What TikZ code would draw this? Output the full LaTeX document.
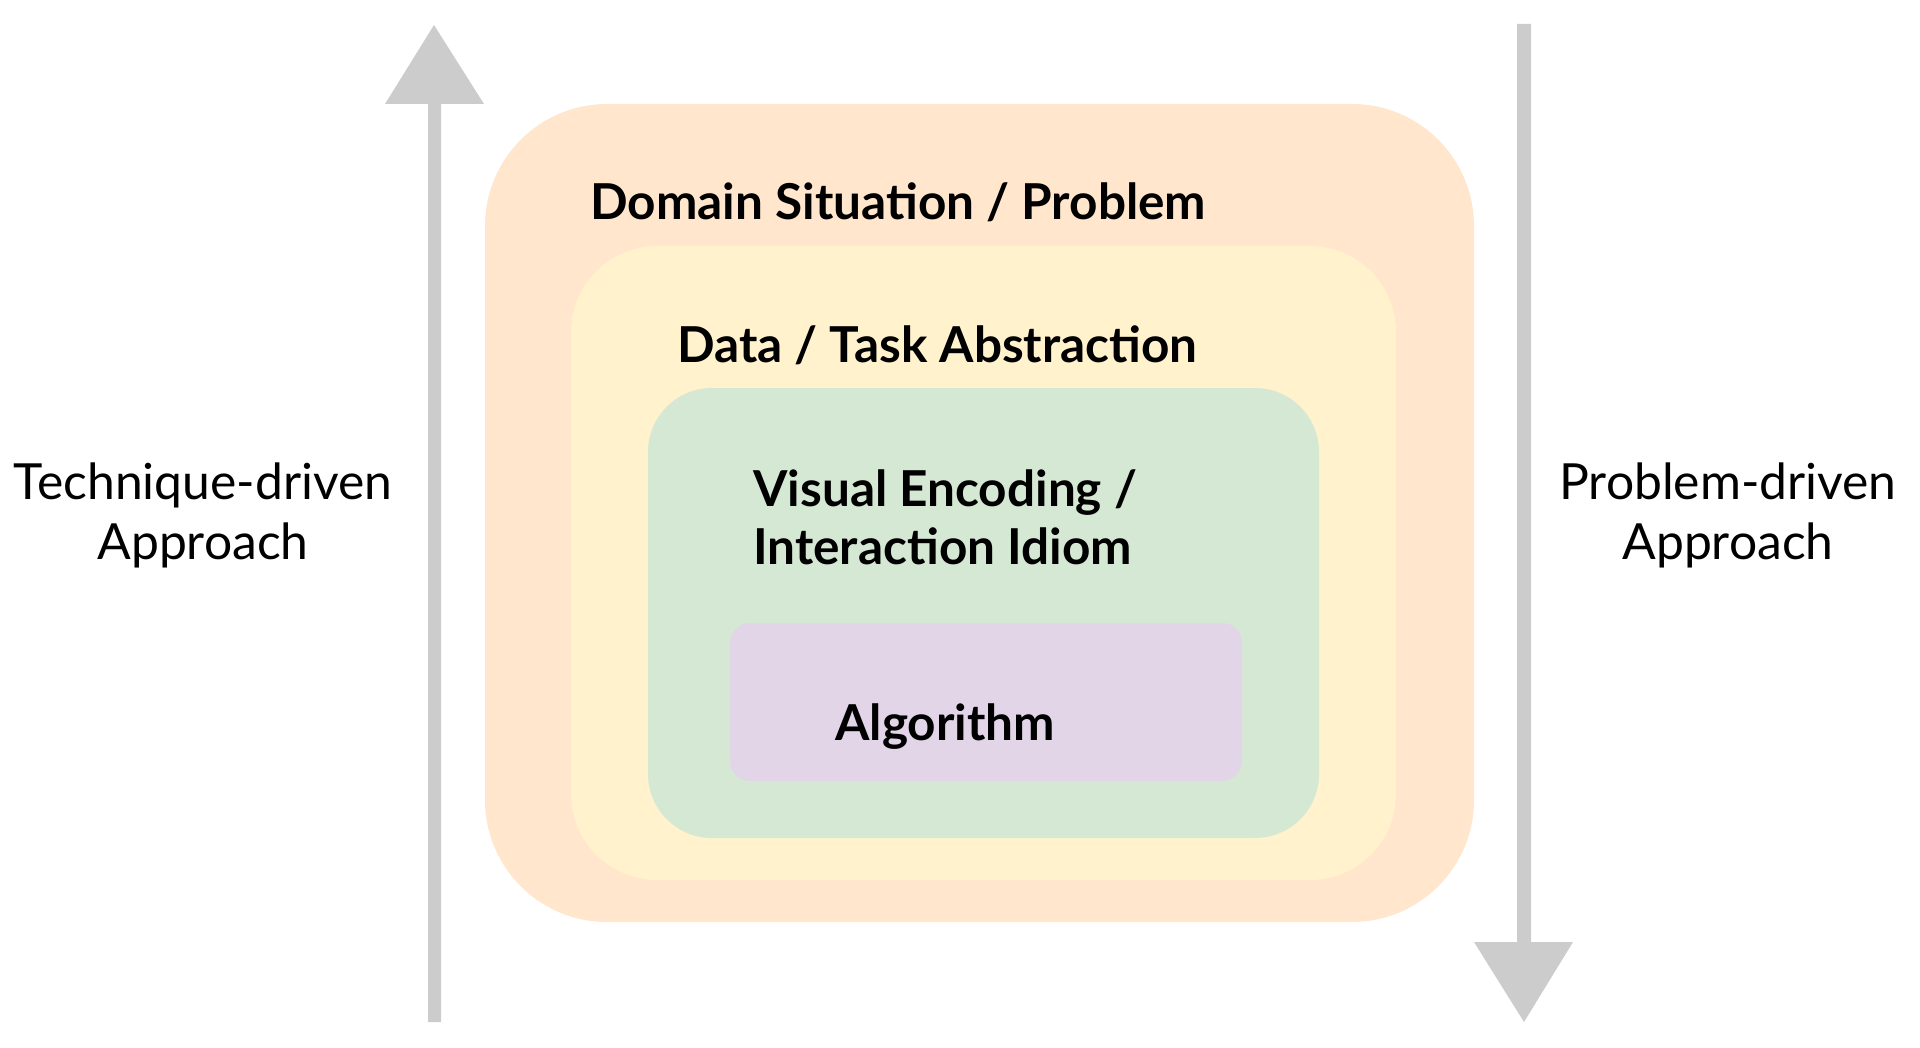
\documentclass[tikz,border=0pt]{standalone}
\usepackage{fontspec}
\setmainfont{Lato}
\definecolor{arrowgray}{HTML}{CCCCCC}
\definecolor{orangefill}{HTML}{FFE6CC}
\definecolor{yellowfill}{HTML}{FFF2CC}
\definecolor{greenfill}{HTML}{D5E8D4}
\definecolor{purplefill}{HTML}{E1D5E7}
\begin{document}
\begin{tikzpicture}[x=0.5pt,y=-0.5pt,
  layerbox/.style={draw=none},
  layertext/.style={anchor=base west,inner sep=0pt,font=\fontsize{24.75}{29}\selectfont\bfseries},
  sidetext/.style={align=center,inner sep=0pt,font=\fontsize{24.9}{30}\selectfont},
  bigarrow/.style={fill=arrowgray,draw=none}]
\useasboundingbox (0,0) rectangle (1920,1048);
% boxes
\fill[orangefill,rounded corners=61pt] (485,104) rectangle (1474,922);
\fill[yellowfill,rounded corners=43pt] (571,246) rectangle (1396,880);
\fill[greenfill,rounded corners=32pt] (648,388) rectangle (1319,838);
\fill[purplefill,rounded corners=10pt] (730,623) rectangle (1242,781);
% labels
\node[layertext] (dom) at (590,220) {Domain Situation / Problem};
\node[layertext] (dat) at (677,362) {Data / Task Abstraction};
\node[layertext] (vis) at (753,506) {Visual Encoding /};
\node[layertext] (int) at (753,564) {Interaction Idiom};
\node[layertext] (alg) at (835,740) {Algorithm};
% arrows
\fill[bigarrow] (428,1022) -- (428,104) -- (385,104) -- (434,25) -- (484,104) -- (441,104) -- (441,1022) -- cycle;
\fill[bigarrow] (1517,24) -- (1517,942) -- (1474,942) -- (1524,1022) -- (1573,942) -- (1531,942) -- (1531,24) -- cycle;
\node[sidetext] (tech) at (203,515) {Technique-driven\\Approach};
\node[sidetext] (prob) at (1728,515) {Problem-driven\\Approach};
\end{tikzpicture}
\end{document}
